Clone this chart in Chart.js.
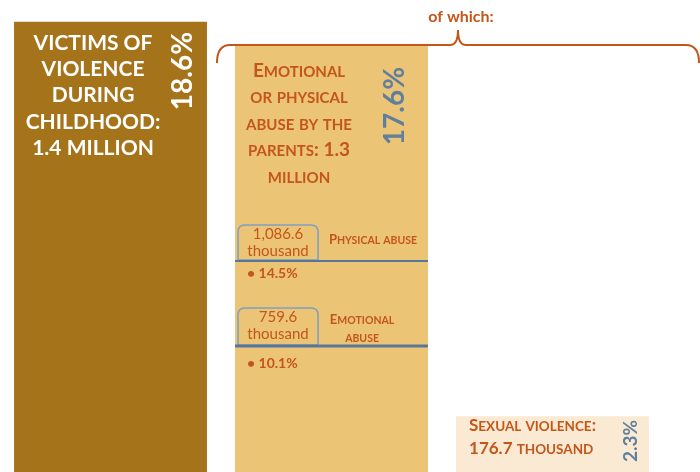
<!DOCTYPE html>
<html>
<head>
<meta charset="utf-8">
<script src="https://cdn.jsdelivr.net/npm/chart.js@4"></script>
<style>
  body { margin: 0; background: #ffffff; }
  #wrap { width: 700px; height: 472px; position: relative; }
</style>
</head>
<body>
<div id="wrap"><canvas id="chart"></canvas></div>
<script>
// Data
const categories = ['Victims of violence during childhood', 'Emotional or physical abuse by the parents', 'Sexual violence'];
const shares = [18.6, 17.6, 2.3];            // % of population
const shareLabels = ['18.6%', '17.6%', '2.3%'];
const barColors = ['#A5741A', '#ECC476', '#FBEAD3'];

const subItems = ['Physical abuse', 'Emotional abuse'];
const subCounts = ['1,086.6', '759.6'];      // thousand
const subShares = ['14.5%', '10.1%'];

const ORANGE = '#C4561A';
const SLATE = '#5F7F9C';
const FONT = 'Lato, "Open Sans", sans-serif';

// draw text where lowercase letters become small capitals
function smallCaps(ctx, str, x, y, big, small, align) {
  const runs = [];
  for (const ch of str) {
    const size = (ch !== ch.toUpperCase()) ? small : big;
    const last = runs[runs.length - 1];
    if (last && last.size === size) last.text += ch.toUpperCase();
    else runs.push({ text: ch.toUpperCase(), size: size });
  }
  let total = 0;
  runs.forEach(r => { ctx.font = 'bold ' + r.size + 'px ' + FONT; r.w = ctx.measureText(r.text).width; total += r.w; });
  let cx = align === 'center' ? x - total / 2 : x;
  ctx.textAlign = 'left';
  ctx.textBaseline = 'alphabetic';
  runs.forEach(r => { ctx.font = 'bold ' + r.size + 'px ' + FONT; ctx.fillText(r.text, cx, y); cx += r.w; });
}

function rotated(ctx, text, x, y, size, color) {
  ctx.save();
  ctx.translate(x, y);
  ctx.rotate(-Math.PI / 2);
  ctx.font = 'bold ' + size + 'px ' + FONT;
  ctx.fillStyle = color;
  ctx.textAlign = 'center';
  ctx.textBaseline = 'middle';
  ctx.fillText(text, 0, 0);
  ctx.restore();
}

function roundBox(ctx, x, y, w, h, r) {
  ctx.beginPath();
  ctx.moveTo(x + r, y);
  ctx.lineTo(x + w - r, y);
  ctx.quadraticCurveTo(x + w, y, x + w, y + r);
  ctx.lineTo(x + w, y + h);
  ctx.lineTo(x, y + h);
  ctx.lineTo(x, y + r);
  ctx.quadraticCurveTo(x, y, x + r, y);
  ctx.stroke();
}

const annotations = {
  id: 'annotations',
  afterDatasetsDraw(chart) {
    const ctx = chart.ctx;
    const bars = chart.getDatasetMeta(0).data;
    const left = bars.map(b => b.x - b.width / 2);
    const w = bars[1].width;
    ctx.save();

    // bar 1
    ctx.fillStyle = '#ffffff';
    ctx.font = 'bold 21px ' + FONT;
    ctx.textAlign = 'center';
    ctx.textBaseline = 'alphabetic';
    ['VICTIMS OF', 'VIOLENCE', 'DURING', 'CHILDHOOD:', '1.4 MILLION'].forEach((t, i) => {
      ctx.fillText(t, left[0] + 79, 50 + i * 26.2);
    });
    rotated(ctx, shareLabels[0], left[0] + 169, 71, 28, '#ffffff');

    // bar 2
    ctx.fillStyle = ORANGE;
    ['Emotional', 'or physical', 'abuse by the', 'parents: 1.3', 'million'].forEach((t, i) => {
      smallCaps(ctx, t, left[1] + 64, 77 + i * 26.4, 19, 15, 'center');
    });
    rotated(ctx, shareLabels[1], left[1] + 160, 106, 28, SLATE);

    const rows = [{ box: 225, line: 261, bullet: 273 }, { box: 308, line: 346, bullet: 363 }];
    rows.forEach((r, i) => {
      ctx.strokeStyle = '#7F9FC2';
      ctx.lineWidth = 1.5;
      roundBox(ctx, left[1] + 3, r.box, 80, r.line - r.box - 1, 7);
      ctx.fillStyle = ORANGE;
      ctx.font = '15px ' + FONT;
      ctx.textAlign = 'center';
      ctx.textBaseline = 'middle';
      ctx.fillText(subCounts[i], left[1] + 43, r.box + 9);
      ctx.fillText('thousand', left[1] + 43, r.box + 26);
      ctx.strokeStyle = '#56769A';
      ctx.lineWidth = i === 0 ? 2 : 3;
      ctx.beginPath();
      ctx.moveTo(left[1], r.line);
      ctx.lineTo(left[1] + w, r.line);
      ctx.stroke();
      ctx.fillStyle = ORANGE;
      ctx.font = 'bold 14px ' + FONT;
      ctx.textAlign = 'left';
      ctx.fillText('\u2022 ' + subShares[i], left[1] + 12, r.bullet);
    });
    ctx.fillStyle = ORANGE;
    smallCaps(ctx, 'Physical abuse', left[1] + 138, 244, 13, 10.5, 'center');
    smallCaps(ctx, 'Emotional', left[1] + 127, 324, 13, 10.5, 'center');
    smallCaps(ctx, 'abuse', left[1] + 127, 342, 13, 10.5, 'center');

    // bar 3
    smallCaps(ctx, 'Sexual violence:', left[2] + 13, 431, 17, 13.5, 'left');
    smallCaps(ctx, '176.7 thousand', left[2] + 13, 454, 17, 13.5, 'left');
    rotated(ctx, shareLabels[2], left[2] + 175, 441, 19, SLATE);

    // brace "of which:"
    ctx.strokeStyle = ORANGE;
    ctx.lineWidth = 2;
    ctx.beginPath();
    ctx.moveTo(217, 63);
    ctx.quadraticCurveTo(217, 45, 230, 45);
    ctx.lineTo(450, 45);
    ctx.quadraticCurveTo(458, 45, 458, 30);
    ctx.quadraticCurveTo(458, 45, 466, 45);
    ctx.lineTo(686, 45);
    ctx.quadraticCurveTo(699, 45, 699, 63);
    ctx.stroke();
    ctx.fillStyle = ORANGE;
    ctx.font = 'bold 16px ' + FONT;
    ctx.textAlign = 'center';
    ctx.textBaseline = 'alphabetic';
    ctx.fillText('of which:', 461, 22);

    ctx.restore();
  }
};

new Chart(document.getElementById('chart'), {
  type: 'bar',
  data: {
    labels: categories,
    datasets: [{
      data: shares,
      backgroundColor: barColors,
      borderWidth: 0,
      barPercentage: 1,
      categoryPercentage: 0.873
    }]
  },
  options: {
    responsive: true,
    maintainAspectRatio: false,
    animation: false,
    layout: { padding: { left: 0, right: 37, top: 0, bottom: 0 } },
    plugins: { legend: { display: false }, tooltip: { enabled: false } },
    scales: {
      x: { display: false },
      y: { display: false, min: 0, max: 19.5 }
    }
  },
  plugins: [annotations]
});
</script>
</body>
</html>
